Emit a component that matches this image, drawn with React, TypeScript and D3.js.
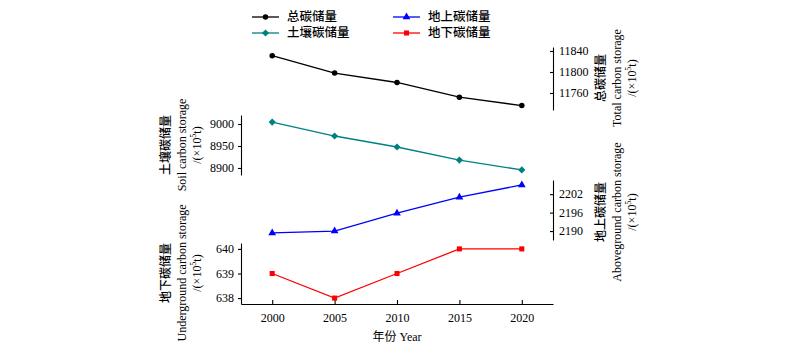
import React, { useEffect, useRef } from "react";
import * as d3 from "d3";

const years = [2000, 2005, 2010, 2015, 2020];
const totalCarbon = [11831, 11798, 11780, 11752, 11736];
const soilCarbon = [9004.5, 8972.7, 8947.7, 8918, 8895.5];
const aboveCarbon = [2189.4, 2190.0, 2195.8, 2201.0, 2205.0];
const underCarbon = [639, 638, 639, 640, 640];

const totalTicks = [11760, 11800, 11840];
const soilTicks = [8900, 8950, 9000];
const aboveTicks = [2190, 2196, 2202];
const underTicks = [638, 639, 640];

const FONT = "'Liberation Serif', 'Times New Roman', 'Noto Sans CJK SC', serif";

export default function App() {
  const ref = useRef<SVGSVGElement>(null);

  useEffect(() => {
    const svg = d3.select(ref.current);
    svg.selectAll("*").remove();
    svg.style("font-family", FONT);

    const xLeft = 241, xRight = 553, xAxisY = 304;
    const x = d3.scaleLinear().domain([1997.5, 2022.5]).range([xLeft, xRight]);

    const yTotal = d3.scaleLinear().domain([11727.6, 11847.6]).range([110, 47]);
    const ySoil = d3.scaleLinear().domain([8884, 9020.5]).range([175, 115]);
    const yAbove = d3.scaleLinear().domain([2187.1, 2206.6]).range([240, 180]);
    const yUnder = d3.scaleLinear().domain([637.76, 640.24]).range([304, 243]);

    // x axis
    const gx = svg.append("g").attr("transform", `translate(0,${xAxisY})`);
    gx.call(
      d3.axisBottom(x).tickValues(years).tickFormat(d3.format("d")).tickSize(-4).tickSizeOuter(0).tickPadding(9)
    );
    gx.selectAll("text").attr("font-size", 12).attr("font-family", FONT).attr("fill", "#000");
    gx.selectAll("line,path").attr("stroke", "#000").attr("stroke-width", 1.1);

    svg.append("text")
      .attr("x", (xLeft + xRight) / 2)
      .attr("y", 341)
      .attr("text-anchor", "middle")
      .attr("font-size", 12)
      .text("年份 Year");

    const leftAxis = (scale: d3.ScaleLinear<number, number>, ticks: number[]) => {
      const g = svg.append("g").attr("transform", `translate(${xLeft},0)`);
      g.call(d3.axisLeft(scale).tickValues(ticks).tickFormat(d3.format("d")).tickSize(3).tickSizeOuter(0).tickPadding(4));
      g.selectAll("text").attr("font-size", 12).attr("font-family", FONT).attr("fill", "#000");
      g.selectAll("line,path").attr("stroke", "#000").attr("stroke-width", 1.1);
    };
    const rightAxis = (scale: d3.ScaleLinear<number, number>, ticks: number[]) => {
      const g = svg.append("g").attr("transform", `translate(${xRight},0)`);
      g.call(d3.axisRight(scale).tickValues(ticks).tickFormat(d3.format("d")).tickSize(-3).tickSizeOuter(0).tickPadding(6));
      g.selectAll("text").attr("font-size", 12).attr("font-family", FONT).attr("fill", "#000");
      g.selectAll("line,path").attr("stroke", "#000").attr("stroke-width", 1.1);
    };
    leftAxis(ySoil, soilTicks);
    leftAxis(yUnder, underTicks);
    rightAxis(yTotal, totalTicks);
    rightAxis(yAbove, aboveTicks);

    const title = (cx: number[], cy: number, zh: string, en: string) => {
      const mk = (xx: number) =>
        svg.append("text")
          .attr("transform", `translate(${xx},${cy}) rotate(-90)`)
          .attr("text-anchor", "middle")
          .attr("dominant-baseline", "central")
          .attr("font-size", 12);
      mk(cx[0]).attr("font-weight", 500).text(zh);
      mk(cx[1]).text(en);
      const u = mk(cx[2]);
      u.append("tspan").text("/(×10");
      u.append("tspan").attr("font-size", 8).attr("dy", -4).text("5");
      u.append("tspan").attr("dy", 4).text("t)");
    };
    title([166, 182, 197], 145, "土壤碳储量", "Soil carbon storage");
    title([166, 182, 197], 273, "地下碳储量", "Underground carbon storage");
    title([601, 617, 632], 78, "总碳储量", "Total carbon storage");
    title([601, 617, 632], 212, "地上碳储量", "Aboveground carbon storage");

    const diamond = { draw: (ctx: any, size: number) => {
      const r = Math.sqrt(size / 2);
      ctx.moveTo(0, -r); ctx.lineTo(r, 0); ctx.lineTo(0, r); ctx.lineTo(-r, 0); ctx.closePath();
    } };

    const series = [
      { vals: totalCarbon, y: yTotal, color: "#000000", sym: d3.symbolCircle, size: 24 },
      { vals: soilCarbon, y: ySoil, color: "#008080", sym: diamond, size: 26 },
      { vals: aboveCarbon, y: yAbove, color: "#0000ff", sym: d3.symbolTriangle, size: 26 },
      { vals: underCarbon, y: yUnder, color: "#ff0000", sym: d3.symbolSquare, size: 26 },
    ];

    series.forEach((s) => {
      const line = d3.line<number>().x((_, i) => x(years[i])).y((d) => s.y(d));
      svg.append("path").attr("d", line(s.vals) || "").attr("fill", "none").attr("stroke", s.color).attr("stroke-width", 1.3);
      svg.selectAll(null)
        .data(s.vals)
        .enter()
        .append("path")
        .attr("d", d3.symbol().type(s.sym as any).size(s.size)() || "")
        .attr("transform", (d, i) => `translate(${x(years[i])},${s.y(d)})`)
        .attr("fill", s.color);
    });

    // legend
    const legend = [
      { label: "总碳储量", color: "#000000", sym: d3.symbolCircle, size: 24, lx: 252, ly: 17 },
      { label: "土壤碳储量", color: "#008080", sym: diamond, size: 26, lx: 252, ly: 33 },
      { label: "地上碳储量", color: "#0000ff", sym: d3.symbolTriangle, size: 26, lx: 393, ly: 17 },
      { label: "地下碳储量", color: "#ff0000", sym: d3.symbolSquare, size: 26, lx: 393, ly: 33 },
    ];
    legend.forEach((l) => {
      const g = svg.append("g");
      g.append("line").attr("x1", l.lx).attr("x2", l.lx + 27).attr("y1", l.ly).attr("y2", l.ly).attr("stroke", l.color).attr("stroke-width", 1.3);
      g.append("path").attr("d", d3.symbol().type(l.sym as any).size(l.size)() || "").attr("transform", `translate(${l.lx + 13.5},${l.ly})`).attr("fill", l.color);
      g.append("text").attr("x", l.lx + 35).attr("y", l.ly).attr("dominant-baseline", "central").attr("font-size", 12.5).attr("font-weight", 500).attr("fill", "#000").text(l.label);
    });
  }, []);

  return (
    <svg ref={ref} width={800} height={357} style={{ position: "absolute", left: 0, top: 0, background: "#fff" }} />
  );
}
